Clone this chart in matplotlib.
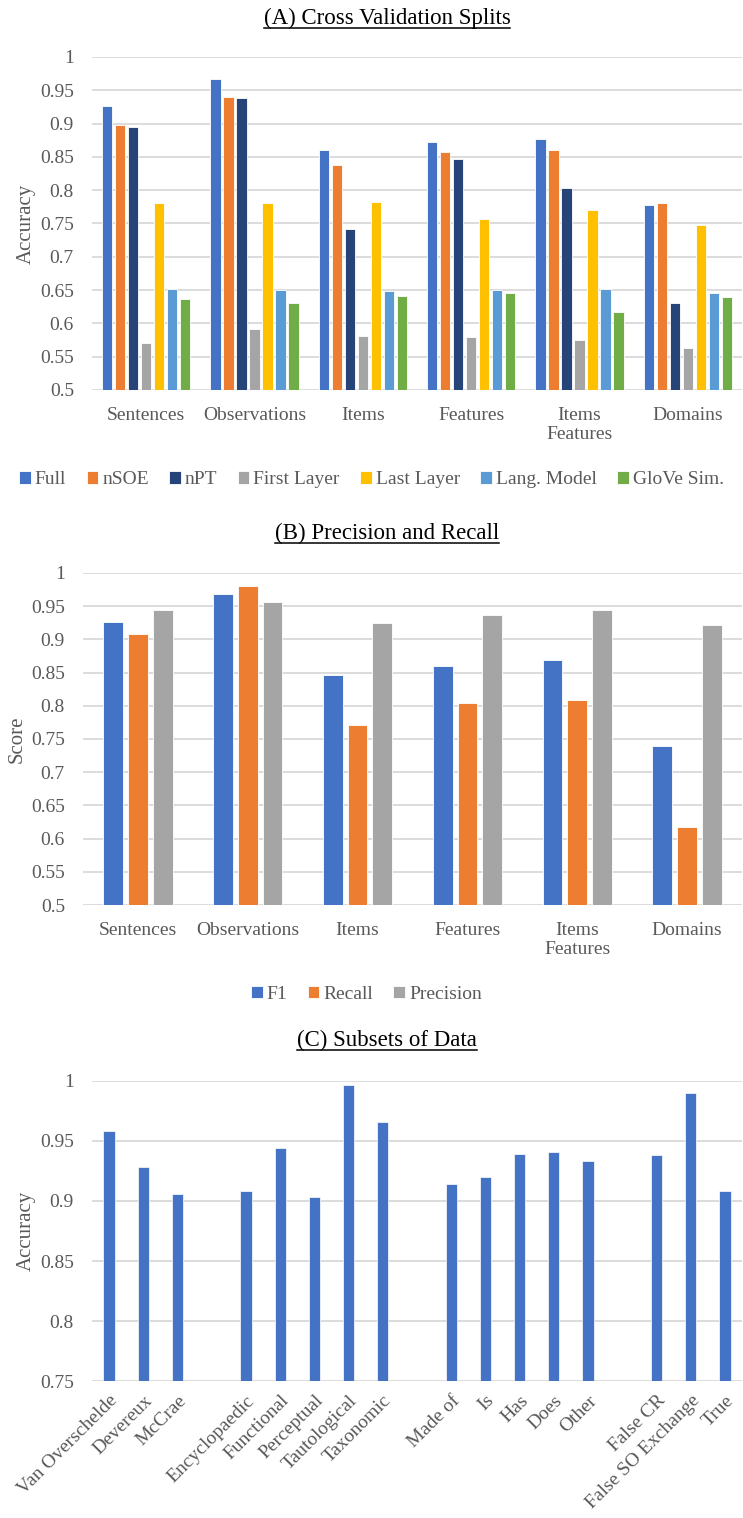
import numpy as np
import matplotlib
matplotlib.use("Agg")
import matplotlib.pyplot as plt
from matplotlib.lines import Line2D

plt.rcParams['font.family'] = ['Liberation Serif', 'DejaVu Serif']

# (A) Cross validation splits
splits = ['Sentences', 'Observations', 'Items', 'Features', 'Items\nFeatures', 'Domains']
models = ['Full', 'nSOE', 'nPT', 'First Layer', 'Last Layer', 'Lang. Model', 'GloVe Sim.']
acc_full = [0.926, 0.967, 0.860, 0.872, 0.877, 0.778]
acc_nsoe = [0.898, 0.940, 0.838, 0.858, 0.860, 0.781]
acc_npt = [0.895, 0.939, 0.741, 0.847, 0.803, 0.630]
acc_first = [0.570, 0.592, 0.581, 0.579, 0.575, 0.563]
acc_last = [0.781, 0.781, 0.783, 0.757, 0.771, 0.747]
acc_lm = [0.652, 0.650, 0.649, 0.650, 0.652, 0.645]
acc_glove = [0.637, 0.630, 0.641, 0.645, 0.617, 0.640]
model_colors = ['#4472C4', '#ED7D31', '#264478', '#A5A5A5', '#FFC000', '#5B9BD5', '#70AD47']

# (B) Precision and recall of the full model
f1 = [0.926, 0.968, 0.846, 0.860, 0.869, 0.740]
recall = [0.908, 0.980, 0.771, 0.804, 0.808, 0.617]
precision = [0.945, 0.956, 0.924, 0.936, 0.944, 0.921]
pr_names = ['F1', 'Recall', 'Precision']
pr_colors = ['#4472C4', '#ED7D31', '#A5A5A5']

# (C) Subsets of data ('' = spacer between groups)
subsets = ['Van Overschelde', 'Devereux', 'McCrae', '',
           'Encyclopaedic', 'Functional', 'Perceptual', 'Tautological', 'Taxonomic', '',
           'Made of', 'Is', 'Has', 'Does', 'Other', '',
           'False CR', 'False SO Exchange', 'True']
subset_acc = [0.958, 0.928, 0.906, np.nan,
              0.908, 0.944, 0.903, 0.997, 0.966, np.nan,
              0.914, 0.920, 0.939, 0.941, 0.933, np.nan,
              0.938, 0.990, 0.908]

W, H = 743, 1518
fig = plt.figure(figsize=(W / 100, H / 100), dpi=100)

tick_col = '#595959'
grid_col = '#D9D9D9'
fs = 14
fs_lab = 15
fs_title = 16.5


def px_axes(left, top, right, bottom):
    return fig.add_axes([left / W, 1 - bottom / H, (right - left) / W, (bottom - top) / H])


def style(ax, ymin, ystep):
    for s in ax.spines.values():
        s.set_visible(False)
    ax.set_yticks(np.arange(ymin, 1.0001, ystep))
    ax.set_yticklabels(['%g' % v for v in np.arange(ymin, 1.0001, ystep)])
    ax.yaxis.grid(True, color=grid_col, linewidth=1.3, zorder=0)
    ax.set_axisbelow(True)
    ax.tick_params(axis='both', length=0, colors=tick_col, labelsize=fs)
    ax.tick_params(axis='y', pad=13)


def underlined_title(text, x, y):
    t = fig.text(x / W, 1 - y / H, text, ha='center', va='center', fontsize=fs_title, color='black')
    fig.canvas.draw()
    bb = t.get_window_extent().transformed(fig.transFigure.inverted())
    yl = bb.y0 + 0.0005
    fig.add_artist(Line2D([bb.x0, bb.x1], [yl, yl], color='black', linewidth=1.1,
                          transform=fig.transFigure))


# ---- panel A
ax1 = px_axes(92, 57, 742, 390)
style(ax1, 0.5, 0.05)
x = np.arange(len(splits))
series_a = [acc_full, acc_nsoe, acc_npt, acc_first, acc_last, acc_lm, acc_glove]
step = 0.12
for i, (vals, c, name) in enumerate(zip(series_a, model_colors, models)):
    ax1.bar(x + (i - 3) * step, np.array(vals) - 0.5, 0.095, bottom=0.5, color=c,
            edgecolor='white', linewidth=0.6, label=name, zorder=2)
ax1.set_ylim(0.5, 1.0)
ax1.set_xlim(-0.5, len(splits) - 0.5)
ax1.set_xticks(x)
ax1.set_xticklabels(splits, va='top', linespacing=1.2)
ax1.tick_params(axis='x', pad=12)
ax1.set_ylabel('Accuracy', fontsize=fs_lab, color=tick_col, labelpad=3)
ax1.legend(loc='center', bbox_to_anchor=(0.43, -0.27), ncol=7, frameon=False,
           fontsize=fs, handlelength=0.6, handleheight=0.6, handletextpad=0.2,
           columnspacing=1.05, labelcolor=tick_col)
underlined_title('(A) Cross Validation Splits', 387, 18)

# ---- panel B
ax2 = px_axes(83, 573, 742, 905)
style(ax2, 0.5, 0.05)
series_b = [f1, recall, precision]
step_b = 0.225
for i, (vals, c, name) in enumerate(zip(series_b, pr_colors, pr_names)):
    ax2.bar(x + (i - 1) * step_b, np.array(vals) - 0.5, 0.18, bottom=0.5, color=c,
            edgecolor='white', linewidth=0.6, label=name, zorder=2)
ax2.set_ylim(0.5, 1.0)
ax2.set_xlim(-0.5, len(splits) - 0.5)
ax2.set_xticks(x)
ax2.set_xticklabels(splits, va='top', linespacing=1.2)
ax2.tick_params(axis='x', pad=12)
ax2.set_ylabel('Score', fontsize=fs_lab, color=tick_col, labelpad=3)
ax2.legend(loc='center', bbox_to_anchor=(0.43, -0.27), ncol=3, frameon=False,
           fontsize=fs, handlelength=0.6, handleheight=0.6, handletextpad=0.2,
           columnspacing=1.05, labelcolor=tick_col)
underlined_title('(B) Precision and Recall', 387, 533)

# ---- panel C
ax3 = px_axes(92, 1081, 742, 1381)
style(ax3, 0.75, 0.05)
xc = np.arange(len(subsets))
ax3.bar(xc, np.array(subset_acc) - 0.75, 0.33, bottom=0.75, color='#4472C4',
        edgecolor='white', linewidth=0.5, zorder=2)
ax3.set_ylim(0.75, 1.0)
ax3.set_xlim(-0.5, len(subsets) - 0.5)
ax3.set_xticks(xc)
ax3.set_xticklabels(subsets, rotation=45, ha='right', va='top', rotation_mode='anchor')
ax3.tick_params(axis='x', pad=8)
ax3.set_ylabel('Accuracy', fontsize=fs_lab, color=tick_col, labelpad=3)
underlined_title('(C) Subsets of Data', 387, 1040)

fig.savefig('out.png', dpi=100)
